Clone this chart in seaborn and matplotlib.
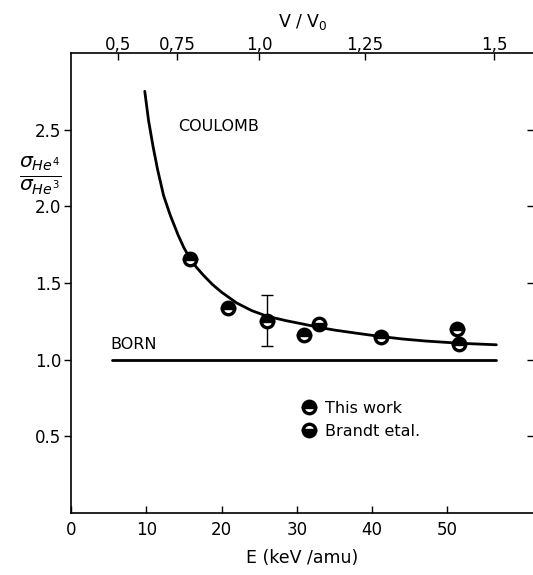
import numpy as np
import seaborn as sns
import matplotlib.pyplot as plt
import pandas as pd

# Coulomb curve (E in keV/amu, ratio)
coulomb_E = [9.8, 10.3, 10.9, 11.5, 12.3, 13.2, 14.25, 15.0, 15.8, 16.7, 17.6, 18.8, 20.0,
             22.0, 24.0, 26.0, 28.5, 30.85, 33.0, 35.0, 38.0, 41.0, 44.0, 47.0, 51.6, 56.5]
coulomb_R = [2.75, 2.56, 2.39, 2.24, 2.07, 1.94, 1.81, 1.73, 1.66, 1.60, 1.55, 1.49, 1.44,
             1.37, 1.32, 1.284, 1.255, 1.232, 1.21, 1.193, 1.172, 1.152, 1.135, 1.122, 1.107, 1.097]

born_E = [5.5, 56.5]
born_R = [1.0, 1.0]

# measured points
this_E = [15.8, 20.9, 26.0, 30.9, 41.2, 51.3, 51.6]
this_R = [1.655, 1.336, 1.255, 1.162, 1.147, 1.197, 1.104]
brandt_E = [33.0]
brandt_R = [1.234]

# error bar on the 25 keV point
err_E = 26.0
err_R = 1.255
err_lo = 1.089
err_hi = 1.422

legend_labels = ["This work", "Brandt etal."]
x_ticks = [0, 10, 20, 30, 40, 50]
y_ticks = [0.5, 1.0, 1.5, 2.0, 2.5]
v_ticks = [0.5, 0.75, 1.0, 1.25, 1.5]
v_labels = ["0,5", "0,75", "1,0", "1,25", "1,5"]

sns.set_style("ticks")
plt.rcParams['font.family'] = ['DejaVu Sans']
for k in ["text.color", "axes.labelcolor", "xtick.color", "ytick.color", "axes.edgecolor"]:
    plt.rcParams[k] = "black"

fig = plt.figure(figsize=(5.33, 5.75), dpi=100)
ax = fig.add_axes([71 / 533, 62 / 575, 463 / 533, 460 / 575])

curve = pd.DataFrame({"E": coulomb_E, "R": coulomb_R})
sns.lineplot(data=curve, x="E", y="R", sort=False, color="black", lw=2.0, ax=ax)
born = pd.DataFrame({"E": born_E, "R": born_R})
sns.lineplot(data=born, x="E", y="R", sort=False, color="black", lw=2.0, ax=ax)

ax.errorbar([err_E], [err_R], yerr=[[err_R - err_lo], [err_hi - err_R]],
            fmt="none", ecolor="black", elinewidth=1.0, capsize=4, capthick=1.0)

mk = dict(ls="none", marker="o", ms=9, mec="black", mew=2.4,
          mfc="black", mfcalt="white")
h1, = ax.plot(this_E, this_R, fillstyle="top", label=legend_labels[0], **mk)
h2, = ax.plot(brandt_E, brandt_R, fillstyle="bottom", label=legend_labels[1], **mk)

ax.legend(handles=[h1, h2], loc="upper left", bbox_to_anchor=(0.465, 0.275),
          frameon=False, fontsize=11.5, handletextpad=0.5, labelspacing=0.5,
          handlelength=1.0)

ax.text(14.2, 2.52, "COULOMB", fontsize=11.5, va="center", ha="left")
ax.text(5.2, 1.10, "BORN", fontsize=11.5, va="center", ha="left")

ax.set_xlim(0, 61.5)
ax.set_ylim(0, 3.0)
ax.set_xticks(x_ticks)
ax.set_yticks(y_ticks)
ax.set_xticklabels([str(t) for t in x_ticks], fontsize=12)
ax.set_yticklabels([f"{t:.1f}" for t in y_ticks], fontsize=12)
ax.set_xlabel("E (keV /amu)", fontsize=12.5, labelpad=7)
ax.set_ylabel("")

ax.tick_params(axis="x", direction="in", length=5, width=1, pad=6)
ax.tick_params(axis="y", direction="out", length=5, width=1, pad=2)
ax.tick_params(axis="y", which="both", right=True)
for side in ["left", "bottom"]:
    ax.spines[side].set_linewidth(1.2)
ax.spines["right"].set_visible(False)
ax.spines["top"].set_visible(False)

# right ticks point inward
for t in ax.yaxis.get_major_ticks():
    t.tick2line.set_marker(0)
    t.tick2line.set_markersize(5)

# top axis: V/V0, E = 25 keV/amu * (V/V0)^2
top = ax.secondary_xaxis("top", functions=(lambda e: np.sqrt(np.clip(e, 0, None) / 25.0),
                                           lambda v: 25.0 * np.asarray(v) ** 2))
top.set_xticks(v_ticks)
top.set_xticklabels(v_labels, fontsize=12)
top.tick_params(direction="in", length=5, width=1, pad=-0.5)
top.spines["top"].set_linewidth(1.2)
top.set_xlabel("V / V$_0$", fontsize=12.5, labelpad=6)

fig.text(40 / 533, 1 - 176 / 575, r"$\frac{\sigma_{He^4}}{\sigma_{He^3}}$",
         fontsize=21, ha="center", va="center")

fig.savefig("out.png", dpi=100)
